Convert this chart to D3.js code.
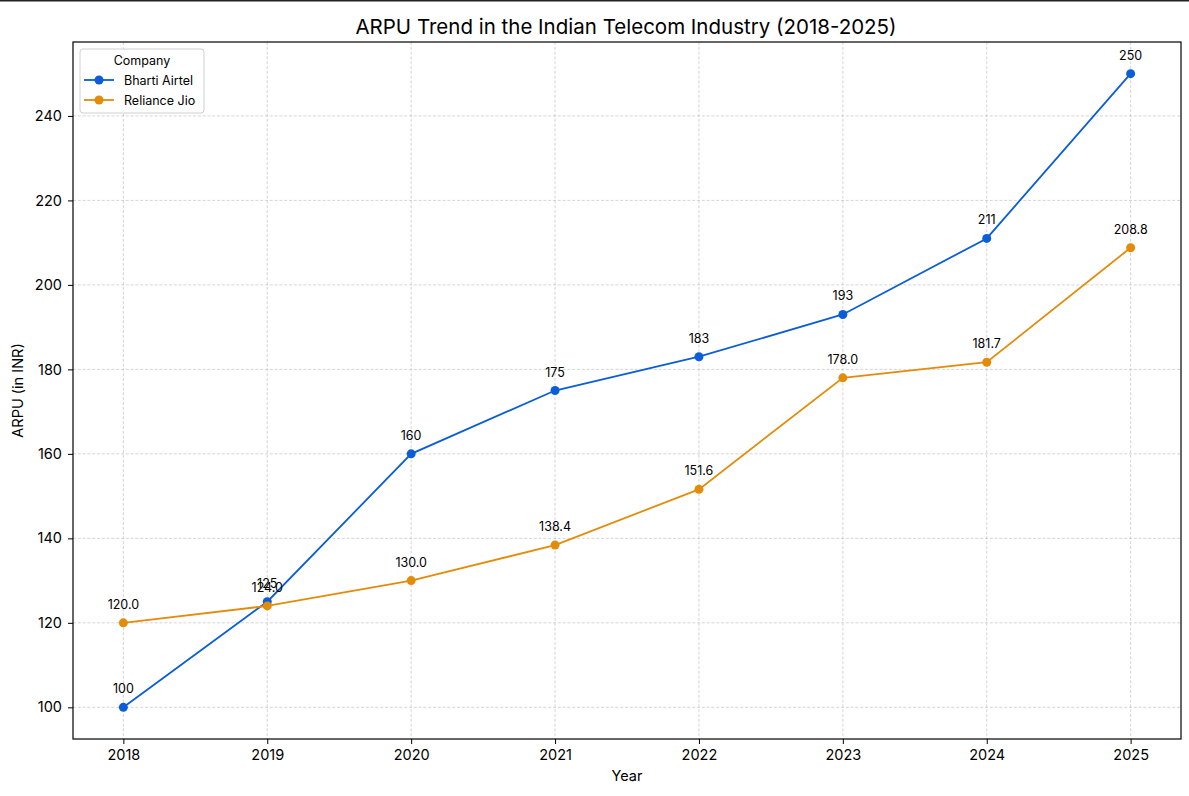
<!DOCTYPE html>
<html><head><meta charset="utf-8">
<script src="https://cdn.jsdelivr.net/npm/d3@7"></script>
<style>body{margin:0;background:#fff;} svg{display:block;font-family:Inter,"Noto Sans",sans-serif;}</style>
</head><body><svg id="c" width="1189" height="796"></svg>
<script>
const years = [2018, 2019, 2020, 2021, 2022, 2023, 2024, 2025];
const airtel = [100, 125, 160, 175, 183, 193, 211, 250];
const jio = [120.0, 124.0, 130.0, 138.4, 151.6, 178.0, 181.7, 208.8];
const airtelLabels = ["100","125","160","175","183","193","211","250"];
const jioLabels = ["120.0","124.0","130.0","138.4","151.6","178.0","181.7","208.8"];
const yTicks = [100,120,140,160,180,200,220,240];
const seriesNames = ["Bharti Airtel", "Reliance Jio"];
const colors = ["#0b5ed7", "#e38c0a"];

const svg = d3.select("#c");
const L = 73, R = 1181, T = 42, B = 739;
const x = d3.scaleLinear().domain([2018 - 0.35, 2025 + 0.35]).range([L, R]);
const y = d3.scaleLinear().domain([92.5, 257.5]).range([B, T]);

svg.append("rect").attr("x",0).attr("y",0).attr("width",1189).attr("height",1.5).attr("fill","#222");

// grid
const g = svg.append("g");
g.selectAll(".gx").data(years).join("line")
  .attr("x1", d=>x(d)).attr("x2", d=>x(d)).attr("y1", T).attr("y2", B)
  .attr("stroke","#b8b8b8").attr("stroke-width",0.6).attr("stroke-dasharray","3,1.8");
g.selectAll(".gy").data(yTicks).join("line")
  .attr("x1", L).attr("x2", R).attr("y1", d=>y(d)).attr("y2", d=>y(d))
  .attr("stroke","#b8b8b8").attr("stroke-width",0.6).attr("stroke-dasharray","3,1.8");

// axes
const xa = svg.append("g").attr("transform",`translate(0,${B})`)
  .call(d3.axisBottom(x).tickValues(years).tickFormat(d3.format("d")).tickSize(5).tickPadding(6));
const ya = svg.append("g").attr("transform",`translate(${L},0)`)
  .call(d3.axisLeft(y).tickValues(yTicks).tickSize(5).tickPadding(6));
[xa, ya].forEach(a => {
  a.select(".domain").remove();
  a.selectAll("text").attr("font-size",14.5).attr("fill","#000").attr("font-family","Inter,'Noto Sans',sans-serif");
  a.selectAll("line").attr("stroke","#000");
});
svg.append("rect").attr("x",L).attr("y",T).attr("width",R-L).attr("height",B-T)
  .attr("fill","none").attr("stroke","#000").attr("stroke-width",1.2);

// series
const data = [airtel, jio];
const labels = [airtelLabels, jioLabels];
const line = d3.line().x((d,i)=>x(years[i])).y(d=>y(d));
data.forEach((s, k) => {
  svg.append("path").datum(s).attr("d", line).attr("fill","none")
    .attr("stroke", colors[k]).attr("stroke-width", 1.8);
  svg.selectAll(null).data(s).join("circle")
    .attr("cx",(d,i)=>x(years[i])).attr("cy", d=>y(d)).attr("r",4.5).attr("fill",colors[k]);
});
data.forEach((s, k) => {
  svg.selectAll(null).data(s).join("text")
    .attr("x",(d,i)=>x(years[i])).attr("y", d=>y(d)-14)
    .attr("text-anchor","middle").attr("font-size",12.5).attr("fill","#000")
    .text((d,i)=>labels[k][i]);
});

// title & labels
svg.append("text").attr("x",(L+R)/2 - 1).attr("y",34).attr("text-anchor","middle")
  .attr("font-size",20.5).attr("fill","#000").text("ARPU Trend in the Indian Telecom Industry (2018-2025)");
svg.append("text").attr("x",(L+R)/2).attr("y",781).attr("text-anchor","middle")
  .attr("font-size",14.5).attr("fill","#000").text("Year");
svg.append("text").attr("transform",`translate(23,${(T+B)/2}) rotate(-90)`).attr("text-anchor","middle")
  .attr("font-size",14.5).attr("fill","#000").text("ARPU (in INR)");

// legend
const lg = svg.append("g");
lg.append("rect").attr("x",80).attr("y",49).attr("width",124).attr("height",64).attr("rx",3)
  .attr("fill","#fff").attr("fill-opacity",0.8).attr("stroke","#d0d0d0");
lg.append("text").attr("x",142).attr("y",65).attr("text-anchor","middle").attr("font-size",12.5).attr("fill","#000").text("Company");
seriesNames.forEach((n,k)=>{
  const yy = 80 + k*20;
  lg.append("line").attr("x1",84).attr("x2",114).attr("y1",yy).attr("y2",yy).attr("stroke",colors[k]).attr("stroke-width",1.8);
  lg.append("circle").attr("cx",99).attr("cy",yy).attr("r",4.5).attr("fill",colors[k]);
  lg.append("text").attr("x",124).attr("y",yy+4.5).attr("font-size",12.5).attr("fill","#000").text(n);
});
</script></body></html>
